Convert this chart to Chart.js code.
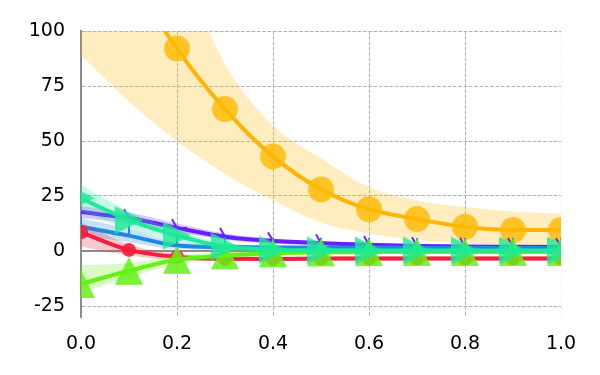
<!DOCTYPE html>
<html>
<head>
<meta charset="utf-8">
<script src="https://cdn.jsdelivr.net/npm/chart.js@4.4.0/dist/chart.umd.min.js"></script>
<style>
  html, body { margin: 0; padding: 0; background: #fff; }
  #wrap { width: 600px; height: 375px; }
</style>
</head>
<body>
<div id="wrap"><canvas id="chart" width="600" height="375"></canvas></div>
<script>
// x positions and tick labels
const xs = [0, 0.1, 0.2, 0.3, 0.4, 0.5, 0.6, 0.7, 0.8, 0.9, 1.0];
const xTicks = [0, 0.2, 0.4, 0.6, 0.8, 1.0];
const yTicks = [-25, 0, 25, 50, 75, 100];

// series (mean, lower band, upper band)
const orangeMean = [185, 128, 92, 64.5, 43, 28, 19, 14.5, 11, 9.5, 9.5];
const orangeLow = [89, 68, 50, 35, 23, 13, 8, 5, 3.5, 2.5, 2];
const orangeHigh = [260, 190, 135, 85, 57, 42, 29, 23, 20, 18, 17];

const purpleMean = [17.7, 15, 10.5, 6.5, 4.5, 3.6, 2.8, 2.3, 2, 1.9, 1.8];
const purpleLow = [15, 12.5, 8.5, 5, 3.3, 2.6, 2, 1.5, 1.2, 1.1, 1];
const purpleHigh = [20.5, 17.5, 12.5, 8, 5.7, 4.6, 3.6, 3.1, 2.8, 2.7, 2.6];

const blueMean = [11, 7, 2.5, 1.8, 1.6, 1.5, 1.5, 1.4, 1.4, 1.4, 1.4];
const blueLow = [7, 4, 0.8, 0.5, 0.5, 0.5, 0.5, 0.5, 0.5, 0.5, 0.5];
const blueHigh = [15, 10, 4.2, 3.1, 2.7, 2.5, 2.5, 2.3, 2.3, 2.3, 2.3];

const tealMean = [24, 14, 7, 2, 0.6, 0.3, 0.2, 0.2, 0.2, 0.2, 0.2];
const tealLow = [18, 10, 4.5, 0.5, -0.5, -0.6, -0.6, -0.6, -0.6, -0.6, -0.6];
const tealHigh = [30, 18, 9.5, 3.5, 1.7, 1.2, 1, 1, 1, 1, 1];

const redMean = [8.5, 0.5, -2.7, -3.5, -3.6, -3.5, -3.4, -3.4, -3.4, -3.4, -3.4];
const redLow = [2, -2, -4.2, -4.6, -4.6, -4.5, -4.4, -4.4, -4.4, -4.4, -4.4];
const redHigh = [13, 3, -1.2, -2.4, -2.6, -2.5, -2.4, -2.4, -2.4, -2.4, -2.4];

const greenMean = [-15, -9, -4, -2, -1, -0.6, -0.5, -0.4, -0.4, -0.4, -0.4];
const greenLow = [-18.6, -12, -6, -3.5, -2.2, -1.6, -1.4, -1.3, -1.3, -1.3, -1.3];
const greenHigh = [-6.5, -5.5, -2, -0.5, 0.2, 0.4, 0.4, 0.5, 0.5, 0.5, 0.5];

function pts(arr) {
    return arr.map((v, i) => ({ x: xs[i], y: v }));
}

// little tri-style markers drawn as line arms from the centre
function triMarker(color, angles) {
    const c = document.createElement('canvas');
    c.width = 24; c.height = 24;
    const g = c.getContext('2d');
    g.strokeStyle = color;
    g.lineWidth = 2;
    for (const a of angles) {
        const r = a * Math.PI / 180;
        g.beginPath();
        g.moveTo(12, 12);
        g.lineTo(12 + 10 * Math.cos(r), 12 + 10 * Math.sin(r));
        g.stroke();
    }
    return c;
}

// triangle centred on its bounding box (like matplotlib's ^ and >)
function triangleMarker(color, dir) {
    const s = 28;
    const c = document.createElement('canvas');
    c.width = s + 2; c.height = s + 2;
    const g = c.getContext('2d');
    g.fillStyle = color;
    g.beginPath();
    if (dir === 'up') {
        g.moveTo(1 + s / 2, 1); g.lineTo(1 + s, 1 + s); g.lineTo(1, 1 + s);
    } else {
        g.moveTo(1 + s, 1 + s / 2); g.lineTo(1, 1 + s); g.lineTo(1, 1);
    }
    g.closePath();
    g.fill();
    return c;
}

const datasets = [];

function addSeries(mean, low, high, color, band, marker, order) {
    datasets.push({
        data: pts(high), borderWidth: 0, pointRadius: 0, fill: false,
        cubicInterpolationMode: 'monotone', clip: 0, order: order + 2
    });
    datasets.push({
        data: pts(low), borderWidth: 0, pointRadius: 0, fill: '-1',
        backgroundColor: band,
        cubicInterpolationMode: 'monotone', clip: 0, order: order + 1
    });
    datasets.push(Object.assign({
        data: pts(mean), borderColor: color, borderWidth: 4, fill: false,
        cubicInterpolationMode: 'monotone', clip: 0, order: order
    }, marker));
}

addSeries(orangeMean, orangeLow, orangeHigh, 'rgb(255,180,0)', 'rgba(255,185,0,0.25)',
    { pointStyle: 'circle', pointRadius: 13, pointBackgroundColor: 'rgba(255,185,0,0.8)', pointBorderWidth: 0 }, 60);
addSeries(purpleMean, purpleLow, purpleHigh, 'rgb(105,30,255)', 'rgba(105,30,255,0.25)',
    { pointStyle: triMarker('rgb(105,30,255)', [240, 0]), pointRadius: 12 }, 50);
addSeries(blueMean, blueLow, blueHigh, 'rgb(30,136,229)', 'rgba(30,136,229,0.25)',
    { pointStyle: triMarker('rgb(30,136,229)', [270]), pointRadius: 12 }, 40);
addSeries(redMean, redLow, redHigh, 'rgb(245,30,60)', 'rgba(245,30,60,0.25)',
    { pointStyle: 'circle', pointRadius: 7, pointBackgroundColor: 'rgba(245,30,60,0.9)', pointBorderWidth: 0 }, 30);
addSeries(greenMean, greenLow, greenHigh, 'rgb(100,240,20)', 'rgba(100,240,20,0.25)',
    { pointStyle: triangleMarker('rgba(100,240,20,0.85)', 'up'), pointRadius: 14 }, 20);
addSeries(tealMean, tealLow, tealHigh, 'rgb(29,233,150)', 'rgba(29,233,150,0.25)',
    { pointStyle: triangleMarker('rgba(29,233,150,0.8)', 'right'), pointRadius: 14 }, 10);

// solid line at y = 0
const zeroLine = {
    id: 'zeroLine',
    beforeDatasetsDraw(chart) {
        const y = chart.scales.y.getPixelForValue(0);
        const a = chart.chartArea;
        const ctx = chart.ctx;
        ctx.save();
        ctx.strokeStyle = '#8c8c8c';
        ctx.lineWidth = 2;
        ctx.beginPath();
        ctx.moveTo(a.left, y);
        ctx.lineTo(a.right, y);
        ctx.stroke();
        ctx.restore();
    }
};

const tickFont = { family: 'DejaVu Sans', size: 19 };

const config = {
    type: 'line',
    data: { datasets: datasets },
    options: {
        responsive: false,
        animation: false,
        devicePixelRatio: 1,
        layout: { padding: { top: 31, right: 39, left: 0, bottom: 0 } },
        plugins: { legend: { display: false }, tooltip: { enabled: false } },
        scales: {
            x: {
                type: 'linear', min: 0, max: 1,
                afterBuildTicks: (s) => { s.ticks = xTicks.map(v => ({ value: v })); },
                afterFit: (s) => { s.height = 58; },
                ticks: { font: tickFont, color: '#000', padding: 16, maxRotation: 0,
                    callback: (v) => v.toFixed(1) },
                grid: { color: (c) => c.tick && c.tick.value === 1 ? '#f2f2f2' : '#b0b0b0',
                    lineWidth: 1, drawTicks: false },
                border: { display: false, dash: [3.7, 1.6] }
            },
            y: {
                min: -30, max: 100,
                afterBuildTicks: (s) => { s.ticks = yTicks.map(v => ({ value: v })); },
                afterFit: (s) => { s.width = 81; },
                ticks: { font: tickFont, color: '#000', padding: 16 },
                grid: { color: (c) => c.tick && c.tick.value === 0 ? 'rgba(0,0,0,0)' : '#b0b0b0',
                    lineWidth: 1, drawTicks: false },
                border: { display: true, color: '#8c8c8c', width: 2, dash: [3.7, 1.6] }
            }
        }
    },
    plugins: [zeroLine]
};

const chart = new Chart(document.getElementById('chart'), config);
</script>
</body>
</html>
